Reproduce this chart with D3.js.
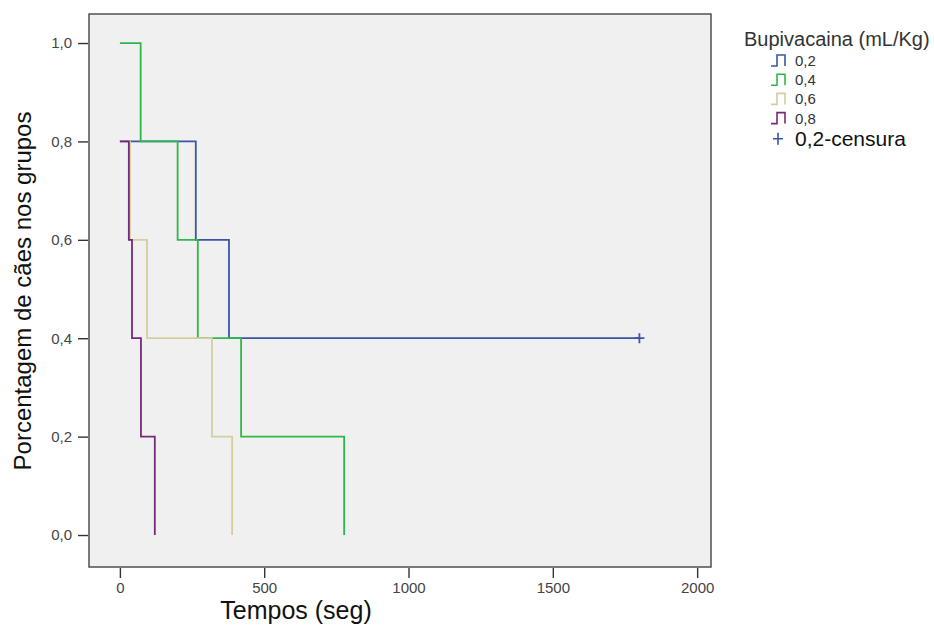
<!DOCTYPE html>
<html lang="pt">
<head>
<meta charset="UTF-8">
<title>Kaplan-Meier Bupivacaina</title>
<script src="https://d3js.org/d3.v7.min.js"></script>
<style>
  body { margin: 0; background: #fff; }
  text { font-family: "Liberation Sans", Arial, sans-serif; }
</style>
</head>
<body>
<script>
// groups (mL/Kg)
var groups = ["0,2", "0,4", "0,6", "0,8"];
var colors = ["#3b55a6", "#2eb848", "#d3ce9f", "#742a7a"];

// survival steps (time in seg, proportion)
var times02 = [0, 263, 378, 1800];
var surv02  = [0.8, 0.6, 0.4, 0.4];
var times04 = [0, 72, 200, 270, 420, 777];
var surv04  = [1.0, 0.8, 0.6, 0.4, 0.2, 0.0];
var times06 = [0, 35, 94, 319, 389];
var surv06  = [0.8, 0.6, 0.4, 0.2, 0.0];
var times08 = [0, 31, 42, 73, 121];
var surv08  = [0.8, 0.6, 0.4, 0.2, 0.0];

// censored observation for group 0,2
var censorTime = [1800];
var censorSurv = [0.4];

var xTicks = [0, 500, 1000, 1500, 2000];
var yTicks = [0, 0.2, 0.4, 0.6, 0.8, 1.0];

var series = [
  {times: times02, surv: surv02},
  {times: times04, surv: surv04},
  {times: times06, surv: surv06},
  {times: times08, surv: surv08}
];

var W = 934, H = 627;
var pLeft = 89, pRight = 711, pTop = 14, pBottom = 567;

var svg = d3.select("body").append("svg")
    .attr("width", W)
    .attr("height", H);

var x = d3.scaleLinear().domain([-107, 2048]).range([pLeft, pRight]);
var y = d3.scaleLinear().domain([-0.065, 1.059]).range([pBottom, pTop]);

// plot area
svg.append("rect")
    .attr("x", pLeft).attr("y", pTop)
    .attr("width", pRight - pLeft).attr("height", pBottom - pTop)
    .attr("fill", "#f0f0f0");

// step curves
var line = d3.line()
    .x(function(d) { return x(d[0]); })
    .y(function(d) { return y(d[1]); })
    .curve(d3.curveStepAfter);

series.forEach(function(s, i) {
  var pts = s.times.map(function(t, j) { return [t, s.surv[j]]; });
  svg.append("path")
      .attr("d", line(pts))
      .attr("fill", "none")
      .attr("stroke", colors[i])
      .attr("stroke-width", 1.8);
});

// censor marks
censorTime.forEach(function(t, j) {
  var cx = x(t), cy = y(censorSurv[j]);
  svg.append("path")
      .attr("d", "M" + (cx - 5) + "," + cy + "H" + (cx + 5) + "M" + cx + "," + (cy - 5) + "V" + (cy + 5))
      .attr("stroke", colors[0])
      .attr("stroke-width", 1.8);
});

// frame
svg.append("rect")
    .attr("x", pLeft).attr("y", pTop)
    .attr("width", pRight - pLeft).attr("height", pBottom - pTop)
    .attr("fill", "none")
    .attr("stroke", "#444")
    .attr("stroke-width", 1.4);

// axes
var fmt = function(d) { return d3.format(".1f")(d).replace(".", ","); };

var yAxis = svg.append("g")
    .attr("transform", "translate(" + (pLeft - 1) + ",0)")
    .call(d3.axisLeft(y).tickValues(yTicks).tickFormat(fmt).tickSize(10).tickPadding(6));
yAxis.select(".domain").remove();

var xAxis = svg.append("g")
    .attr("transform", "translate(0," + (pBottom + 1) + ")")
    .call(d3.axisBottom(x).tickValues(xTicks).tickFormat(d3.format("d")).tickSize(10).tickPadding(4));
xAxis.select(".domain").remove();

svg.selectAll(".tick line").attr("stroke", "#333").attr("stroke-width", 1.4);
svg.selectAll(".tick text")
    .attr("fill", "#444")
    .style("font-size", "15px")
    .style("font-family", "'Liberation Sans', Arial, sans-serif");

// axis titles
svg.append("text")
    .attr("x", 296).attr("y", 619)
    .attr("text-anchor", "middle")
    .style("font-size", "25px")
    .attr("fill", "#111")
    .text("Tempos (seg)");

svg.append("text")
    .attr("transform", "translate(31,291) rotate(-90)")
    .attr("text-anchor", "middle")
    .style("font-size", "24px")
    .attr("fill", "#111")
    .text("Porcentagem de cães nos grupos");

// legend
var lg = svg.append("g");
lg.append("text")
    .attr("x", 744).attr("y", 46)
    .style("font-size", "20px")
    .attr("fill", "#333")
    .text("Bupivacaina (mL/Kg)");

groups.forEach(function(g, i) {
  var ly = 66 + i * 19.2;
  lg.append("path")
      .attr("d", "M771," + ly + "H777V" + (ly - 11) + "H785V" + ly)
      .attr("fill", "none")
      .attr("stroke", colors[i])
      .attr("stroke-width", 1.6);
  lg.append("text")
      .attr("x", 795).attr("y", ly)
      .style("font-size", "15px")
      .attr("fill", "#333")
      .text(g);
});

var cy0 = 66 + 4 * 19.2 - 4;
lg.append("path")
    .attr("d", "M773," + cy0 + "H783M778," + (cy0 - 6) + "V" + (cy0 + 6))
    .attr("stroke", colors[0])
    .attr("stroke-width", 1.6);
lg.append("text")
    .attr("x", 795).attr("y", cy0 + 7)
    .style("font-size", "21px")
    .attr("fill", "#111")
    .text("0,2-censura");
</script>
</body>
</html>
